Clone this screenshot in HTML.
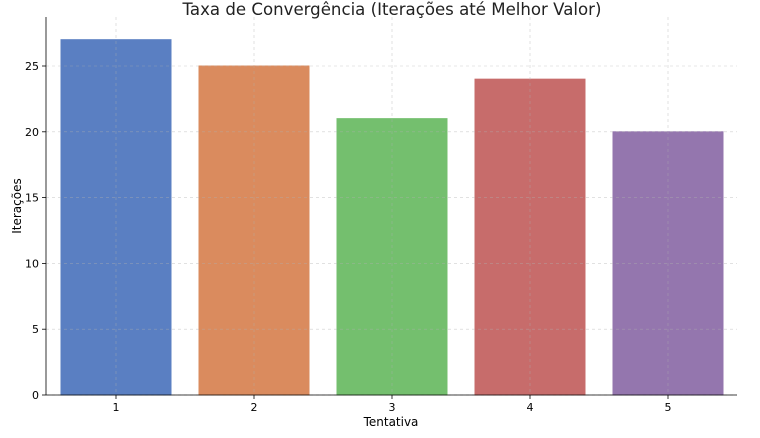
<!DOCTYPE html>
<html><head><meta charset="utf-8"><style>
body{margin:0;background:#fff;font-family:"Liberation Sans","DejaVu Sans",sans-serif}
</style></head><body>
<svg id="chart" width="760" height="433" xmlns="http://www.w3.org/2000/svg" font-family="DejaVu Sans, Liberation Sans, sans-serif"></svg>
<script>
const categories=["1","2","3","4","5"];
const values=[27,25,21,24,20];
const colors=["#5a7fc2","#da8b5e","#74bf6e","#c76c6b","#9476ae"];
const yTicks=[0,5,10,15,20,25];
const NS="http://www.w3.org/2000/svg";
const svg=document.getElementById('chart');
const L=46,R=737,B=395,T=17;
const yScale=v=>B-v*13.16;
const step=138,x0=116,bw=110;
const xScale=i=>x0+i*step;
function mk(t,a,txt){const e=document.createElementNS(NS,t);for(const k in a)e.setAttribute(k,a[k]);if(txt!==undefined)e.textContent=txt;svg.appendChild(e);return e;}
categories.forEach((c,i)=>{
 const b=mk('rect',{x:xScale(i)-bw/2,y:yScale(values[i]),width:bw,height:B-yScale(values[i]),fill:colors[i],stroke:colors[i]});
 
 
});
yTicks.forEach(v=>{
 const y=yScale(v);
 const g=mk('line',{x1:L,x2:R,y1:y,y2:y,stroke:"#b0b0b0","stroke-width":0.6,"stroke-dasharray":"3,3",opacity:0.6});
 
 
 mk('line',{x1:L-4,x2:L,y1:y,y2:y,stroke:"#000","stroke-width":0.8});
 const t=mk('text',{x:L-7,y:y+4,"text-anchor":"end","font-size":11,fill:"#000"},v);
 
 
});
categories.forEach((c,i)=>{
 const x=xScale(i);
 const g=mk('line',{x1:x,x2:x,y1:T,y2:B,stroke:"#b0b0b0","stroke-width":0.6,"stroke-dasharray":"3,3",opacity:0.6});
 
 
 mk('line',{x1:x,x2:x,y1:B,y2:B+4,stroke:"#000","stroke-width":0.8});
 const t=mk('text',{x:x,y:B+16,"text-anchor":"middle","font-size":11,fill:"#000"},c);
 
 
});
const ax=mk('line',{x1:L,x2:L,y1:T,y2:B,stroke:"#000","stroke-width":0.8});


const bx=mk('line',{x1:L,x2:R,y1:B,y2:B,stroke:"#000","stroke-width":0.8});


const tt=mk('text',{x:392,y:15,"text-anchor":"middle","font-size":16.6,fill:"#222"},"Taxa de Convergência (Iterações até Melhor Valor)");


const xt=mk('text',{x:391,y:426,"text-anchor":"middle","font-size":12,fill:"#000"},"Tentativa");


const yt=mk('text',{x:21,y:206,"text-anchor":"middle","font-size":12,fill:"#000",transform:"rotate(-90 21 206)"},"Iterações");


</script>
</body></html>
